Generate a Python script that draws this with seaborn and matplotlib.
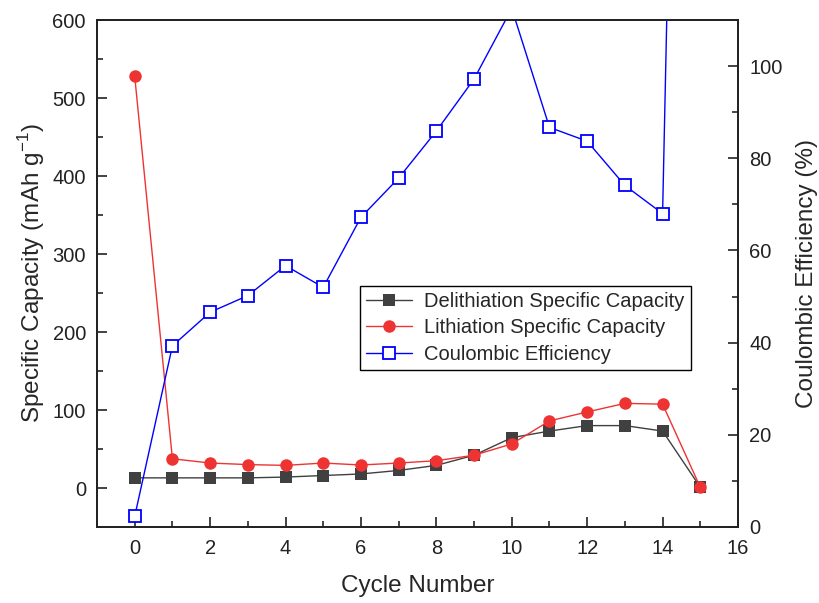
import numpy as np
import pandas as pd
import seaborn as sns
import matplotlib.pyplot as plt
from matplotlib.ticker import MultipleLocator

# values
cycles = list(range(16))
delith = [13, 13, 13, 13, 14, 16, 18, 22.5, 29, 42, 64.5, 73, 80, 80, 73, 1]
lith = [528, 37.5, 32, 30, 29, 32, 29.5, 32, 35, 42, 56.5, 86, 97.5, 108.5, 107.5, 1]
ce = [2.3, 39.3, 46.6, 50.2, 56.7, 52, 67.2, 75.7, 85.9, 97.2, 112.5, 86.7, 83.7, 74.1, 68, 450]

sns.set_style("ticks")
plt.rcParams['font.family'] = ['Liberation Sans', 'DejaVu Sans']
plt.rcParams['mathtext.fontset'] = 'custom'
plt.rcParams['mathtext.rm'] = 'Liberation Sans'

df = pd.DataFrame({"cycle": cycles, "delith": delith, "lith": lith, "ce": ce})

fig = plt.figure(figsize=(8.2, 6.03), dpi=100)
ax = fig.add_axes([97 / 820, 76 / 603, 641 / 820, 507 / 603])
ax2 = ax.twinx()

sns.lineplot(data=df, x="cycle", y="delith", color="#404040", marker="s", markersize=8.5,
             markeredgewidth=0, linewidth=1, label="Delithiation Specific Capacity", ax=ax, legend=False)
sns.lineplot(data=df, x="cycle", y="lith", color="#ee3333", marker="o", markersize=9,
             markeredgewidth=0, linewidth=1, label="Lithiation Specific Capacity", ax=ax, legend=False)
sns.lineplot(data=df, x="cycle", y="ce", color="#0000ff", marker="s", markersize=8.5,
             markerfacecolor="white", markeredgecolor="#0000ff", markeredgewidth=1.3,
             linewidth=1, label="Coulombic Efficiency", ax=ax2, legend=False)

ax.set_xlim(-1, 16)
ax.set_ylim(-50, 600)
ax2.set_ylim(0, 110)

ax.xaxis.set_major_locator(MultipleLocator(2))
ax.xaxis.set_minor_locator(MultipleLocator(1))
ax.yaxis.set_major_locator(MultipleLocator(100))
ax.yaxis.set_minor_locator(MultipleLocator(50))
ax2.yaxis.set_major_locator(MultipleLocator(20))
ax2.yaxis.set_minor_locator(MultipleLocator(10))

for a in (ax, ax2):
    a.tick_params(which="major", direction="in", length=7, width=1.2, labelsize=14.5,
                  colors="#222222", pad=8)
    a.tick_params(which="minor", direction="in", length=4, width=1.2)
    for s in a.spines.values():
        s.set_linewidth(1.3)
        s.set_color("#222222")
ax.tick_params(axis="x", pad=9)

ax.set_xlabel("Cycle Number", fontsize=17.5, labelpad=12)
ax.set_ylabel(r"Specific Capacity (mAh g$^{\mathregular{-1}}$)", fontsize=17.5, labelpad=4)
ax2.set_ylabel("Coulombic Efficiency (%)", fontsize=17.5, rotation=90, labelpad=10)

h1, l1 = ax.get_legend_handles_labels()
h2, l2 = ax2.get_legend_handles_labels()
leg = ax2.legend(h1 + h2, l1 + l2, loc="upper left", bbox_to_anchor=(0.41, 0.475),
                 borderaxespad=0, fontsize=14.5, frameon=True, fancybox=False,
                 edgecolor="black", framealpha=1, handlelength=2.3, handletextpad=0.6,
                 labelspacing=0.36, borderpad=0.3)
leg.get_frame().set_linewidth(1.0)

fig.savefig("out.png", dpi=100)
